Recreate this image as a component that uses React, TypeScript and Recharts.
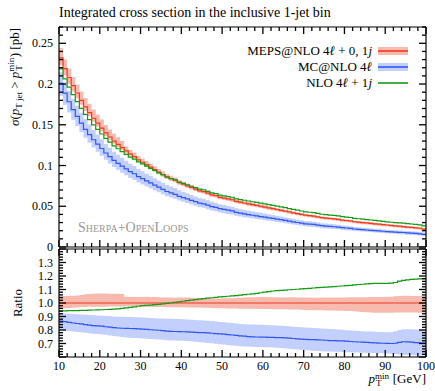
import { ComposedChart, Line, Area, Scatter, XAxis, YAxis, Legend, Customized } from "recharts";

// bin edges in GeV (lower edges, last entry closes the histogram)
const binEdges = [
  10, 11, 12, 13, 14, 15, 16, 17, 18, 19,
  20, 21, 22, 23, 24, 25, 26, 27, 28, 29,
  30, 31, 32, 33, 34, 35, 36, 37, 38, 39,
  40, 41, 42, 43, 44, 45, 46, 47, 48, 49,
  50, 51, 52, 53, 54, 55, 56, 57, 58, 59,
  60, 61, 62, 63, 64, 65, 66, 67, 68, 69,
  70, 71, 72, 73, 74, 75, 76, 77, 78, 79,
  80, 81, 82, 83, 84, 85, 86, 87, 88, 89,
  90, 91, 92, 93, 94, 95, 96, 97, 98, 99,
  100,
];

// MEPS@NLO 4l + 0,1j integrated cross section [pb]
const mepsXsec = [
  0.232, 0.219, 0.208, 0.198, 0.189, 0.180, 0.172, 0.165, 0.158, 0.152,
  0.146, 0.140, 0.135, 0.130, 0.126, 0.122, 0.118, 0.114, 0.111, 0.107,
  0.104, 0.101, 0.098, 0.095, 0.092, 0.089, 0.086, 0.084, 0.082, 0.079,
  0.077, 0.075, 0.073, 0.071, 0.069, 0.068, 0.066, 0.064, 0.063, 0.061,
  0.060, 0.059, 0.058, 0.056, 0.055, 0.054, 0.053, 0.052, 0.051, 0.050,
  0.049, 0.048, 0.047, 0.046, 0.045, 0.044, 0.043, 0.042, 0.041, 0.040,
  0.039, 0.0385, 0.038, 0.037, 0.036, 0.0355, 0.035, 0.0345, 0.034, 0.033,
  0.0325, 0.032, 0.031, 0.0305, 0.030, 0.0295, 0.029, 0.0285, 0.028, 0.0275,
  0.027, 0.0265, 0.026, 0.0255, 0.025, 0.0245, 0.024, 0.0235, 0.023, 0.022,
];

// MEPS@NLO uncertainty band, relative to its central value
const mepsHi = [
  1.051, 1.052, 1.052, 1.053, 1.055, 1.060, 1.064, 1.066, 1.068, 1.070,
  1.071, 1.070, 1.069, 1.068, 1.068, 1.067, 1.046, 1.045, 1.044, 1.044,
  1.045, 1.046, 1.045, 1.044, 1.042, 1.041, 1.040, 1.040, 1.039, 1.040,
  1.041, 1.040, 1.039, 1.038, 1.037, 1.036, 1.035, 1.035, 1.034, 1.034,
  1.035, 1.036, 1.036, 1.037, 1.038, 1.040, 1.042, 1.043, 1.043, 1.044,
  1.044, 1.043, 1.042, 1.042, 1.041, 1.041, 1.042, 1.042, 1.041, 1.040,
  1.040, 1.040, 1.039, 1.039, 1.040, 1.041, 1.041, 1.040, 1.040, 1.041,
  1.041, 1.042, 1.042, 1.042, 1.043, 1.043, 1.044, 1.044, 1.044, 1.045,
  1.046, 1.047, 1.050, 1.052, 1.053, 1.053, 1.052, 1.052, 1.051, 1.051,
];
const mepsLo = [
  0.962, 0.962, 0.963, 0.964, 0.966, 0.970, 0.971, 0.972, 0.972, 0.972,
  0.973, 0.973, 0.974, 0.974, 0.975, 0.975, 0.976, 0.976, 0.975, 0.975,
  0.974, 0.973, 0.972, 0.971, 0.970, 0.970, 0.969, 0.969, 0.968, 0.968,
  0.968, 0.967, 0.967, 0.966, 0.966, 0.965, 0.964, 0.963, 0.962, 0.962,
  0.961, 0.960, 0.960, 0.959, 0.958, 0.958, 0.957, 0.957, 0.956, 0.956,
  0.955, 0.955, 0.954, 0.954, 0.953, 0.953, 0.952, 0.952, 0.951, 0.950,
  0.949, 0.948, 0.947, 0.947, 0.946, 0.945, 0.944, 0.944, 0.943, 0.942,
  0.941, 0.940, 0.938, 0.936, 0.933, 0.931, 0.929, 0.928, 0.928, 0.927,
  0.927, 0.928, 0.929, 0.930, 0.930, 0.930, 0.929, 0.929, 0.928, 0.928,
];

// MC@NLO 4l / MEPS@NLO
const mcRatio = [
  0.866, 0.862, 0.857, 0.852, 0.848, 0.845, 0.840, 0.836, 0.833, 0.830,
  0.828, 0.824, 0.821, 0.818, 0.815, 0.813, 0.812, 0.811, 0.810, 0.808,
  0.806, 0.804, 0.802, 0.800, 0.798, 0.795, 0.792, 0.790, 0.789, 0.788,
  0.787, 0.786, 0.785, 0.783, 0.781, 0.780, 0.778, 0.776, 0.773, 0.771,
  0.769, 0.766, 0.763, 0.760, 0.757, 0.754, 0.751, 0.749, 0.748, 0.747,
  0.747, 0.746, 0.745, 0.744, 0.744, 0.742, 0.740, 0.737, 0.734, 0.732,
  0.730, 0.729, 0.728, 0.727, 0.726, 0.724, 0.722, 0.721, 0.720, 0.719,
  0.717, 0.715, 0.713, 0.711, 0.710, 0.708, 0.706, 0.704, 0.703, 0.702,
  0.701, 0.700, 0.702, 0.708, 0.713, 0.712, 0.710, 0.707, 0.705, 0.703,
];
const mcHi = [
  0.925, 0.923, 0.921, 0.919, 0.917, 0.915, 0.913, 0.911, 0.909, 0.907,
  0.905, 0.903, 0.902, 0.900, 0.899, 0.898, 0.897, 0.896, 0.895, 0.894,
  0.893, 0.891, 0.889, 0.887, 0.886, 0.885, 0.884, 0.883, 0.882, 0.881,
  0.880, 0.878, 0.876, 0.874, 0.872, 0.870, 0.868, 0.866, 0.863, 0.860,
  0.857, 0.854, 0.851, 0.848, 0.845, 0.843, 0.841, 0.840, 0.839, 0.838,
  0.837, 0.836, 0.835, 0.833, 0.831, 0.829, 0.827, 0.825, 0.823, 0.821,
  0.819, 0.817, 0.815, 0.813, 0.811, 0.809, 0.807, 0.805, 0.803, 0.801,
  0.799, 0.797, 0.795, 0.793, 0.791, 0.789, 0.788, 0.787, 0.786, 0.785,
  0.784, 0.784, 0.790, 0.800, 0.806, 0.806, 0.805, 0.804, 0.803, 0.802,
];
const mcLo = [
  0.800, 0.797, 0.793, 0.789, 0.786, 0.783, 0.780, 0.776, 0.773, 0.770,
  0.767, 0.764, 0.760, 0.756, 0.752, 0.748, 0.745, 0.743, 0.741, 0.739,
  0.737, 0.735, 0.733, 0.731, 0.729, 0.727, 0.725, 0.723, 0.722, 0.721,
  0.720, 0.718, 0.716, 0.713, 0.710, 0.707, 0.704, 0.701, 0.698, 0.695,
  0.692, 0.689, 0.686, 0.683, 0.680, 0.678, 0.677, 0.676, 0.675, 0.674,
  0.673, 0.672, 0.671, 0.669, 0.667, 0.664, 0.661, 0.658, 0.655, 0.653,
  0.651, 0.649, 0.647, 0.645, 0.643, 0.641, 0.640, 0.639, 0.638, 0.637,
  0.636, 0.635, 0.634, 0.633, 0.632, 0.631, 0.630, 0.629, 0.628, 0.627,
  0.626, 0.625, 0.622, 0.618, 0.615, 0.614, 0.613, 0.612, 0.612, 0.611,
];

// NLO 4l + 1j / MEPS@NLO
const nloRatio = [
  0.942, 0.942, 0.943, 0.944, 0.944, 0.945, 0.946, 0.947, 0.948, 0.949,
  0.950, 0.952, 0.953, 0.955, 0.957, 0.960, 0.964, 0.968, 0.972, 0.976,
  0.980, 0.983, 0.985, 0.988, 0.990, 0.994, 0.997, 1.000, 1.004, 1.008,
  1.013, 1.017, 1.021, 1.025, 1.029, 1.033, 1.036, 1.039, 1.042, 1.045,
  1.047, 1.050, 1.053, 1.055, 1.058, 1.062, 1.065, 1.068, 1.072, 1.076,
  1.080, 1.084, 1.089, 1.092, 1.094, 1.096, 1.098, 1.100, 1.102, 1.104,
  1.106, 1.108, 1.111, 1.114, 1.116, 1.118, 1.120, 1.122, 1.124, 1.126,
  1.128, 1.131, 1.134, 1.137, 1.139, 1.141, 1.143, 1.145, 1.146, 1.146,
  1.146, 1.147, 1.152, 1.162, 1.168, 1.172, 1.175, 1.177, 1.178, 1.180,
];

const xTicks = [10, 12, 14, 16, 18, 20, 22, 24, 26, 28, 30, 32, 34, 36, 38, 40, 42, 44, 46, 48, 50,
  52, 54, 56, 58, 60, 62, 64, 66, 68, 70, 72, 74, 76, 78, 80, 82, 84, 86, 88, 90, 92, 94, 96, 98, 100];
const mainMajor = [0, 0.05, 0.1, 0.15, 0.2, 0.25];
const mainMajorLabels = ["0", "0.05", "0.1", "0.15", "0.2", "0.25"];
const ratioMajor = [0.6, 0.7, 0.8, 0.9, 1.0, 1.1, 1.2, 1.3, 1.4];
const ratioMajorLabels = ["", "0.7", "0.8", "0.9", "1.0", "1.1", "1.2", "1.3", ""];

const legendNames = ["MEPS@NLO", "MC@NLO", "NLO"];

const RED = "#ee3a1e";
const RED_BAND = "#f8b9ae";
const BLUE = "#2f58f2";
const BLUE_BAND = "#c3cffc";
const GREEN = "#159a15";
const FONT = "'Liberation Serif', 'DejaVu Serif', serif";

// minor tick positions (every 0.01 / 0.02)
const mainYTicks = Array.from({ length: 28 }, (_, i) => i / 100);
const ratioYTicks = Array.from({ length: 41 }, (_, i) => Math.round(60 + i * 2) / 100);

const mainRows = binEdges.map((x, i) => {
  const k = Math.min(i, mepsXsec.length - 1);
  const m = mepsXsec[k];
  return {
    x,
    meps: m,
    mc: m * mcRatio[k],
    nlo: m * nloRatio[k],
    mepsBand: [m * mepsLo[k], m * mepsHi[k]],
    mcBand: [m * mcLo[k], m * mcHi[k]],
  };
});

const ratioRows = binEdges.map((x, i) => {
  const k = Math.min(i, mepsXsec.length - 1);
  return {
    x,
    meps: 1,
    mc: mcRatio[k],
    nlo: nloRatio[k],
    mepsBand: [mepsLo[k], mepsHi[k]],
    mcBand: [mcLo[k], mcHi[k]],
  };
});

const MINOR_LEN = 4;
const MAJOR_LEN = 7;
const TICK_W = 1.3;
const axisLine = { stroke: "#000", strokeWidth: 1.2 };

const isMajor = (v: number, majors: number[]) => majors.some((m) => Math.abs(m - v) < 1e-6);

// the frame ticks are placed through the chart's own scales as scatter points,
// each one drawn as a short inward mark
function tickPoints(domain: number[], yTicks: number[], majors: number[]) {
  const bottom = xTicks.map((t) => ({ x: t, y: domain[0], side: "bottom", major: t % 10 === 0 }));
  const top = xTicks.map((t) => ({ x: t, y: domain[1], side: "top", major: t % 10 === 0 }));
  const left = yTicks.map((t) => ({ x: 10, y: t, side: "left", major: isMajor(t, majors) }));
  const right = yTicks.map((t) => ({ x: 100, y: t, side: "right", major: isMajor(t, majors) }));
  return [...bottom, ...top, ...left, ...right];
}

function TickMark(props: any) {
  const { cx, cy, payload } = props;
  if (cx == null || cy == null || !payload) return <g />;
  const len = payload.major ? MAJOR_LEN : MINOR_LEN;
  if (payload.side === "bottom") return <rect x={cx - TICK_W / 2} y={cy - len} width={TICK_W} height={len} fill="#000" />;
  if (payload.side === "top") return <rect x={cx - TICK_W / 2} y={cy} width={TICK_W} height={len} fill="#000" />;
  if (payload.side === "left") return <rect x={cx} y={cy - TICK_W / 2} width={len} height={TICK_W} fill="#000" />;
  return <rect x={cx - len} y={cy - TICK_W / 2} width={len} height={TICK_W} fill="#000" />;
}

function XTick(props: any) {
  const { payload, labels } = props;
  const x = Number(props.x);
  const y = Number(props.y);
  const v = payload.value;
  if (!labels || v % 10 !== 0) return <g />;
  return (
    <text x={x} y={y + 13} textAnchor="middle" fontSize={12} fontFamily={FONT} fill="#000">
      {v}
    </text>
  );
}

function YTick(props: any) {
  const { payload, majors, labels } = props;
  const x = Number(props.x);
  const y = Number(props.y);
  const idx = majors.findIndex((m: number) => Math.abs(m - payload.value) < 1e-6);
  if (idx < 0 || !labels[idx]) return <g />;
  return (
    <text x={x - 6} y={y + 4} textAnchor="end" fontSize={12} fontFamily={FONT} fill="#000">
      {labels[idx]}
    </text>
  );
}

function LegendBox() {
  const rows = [
    { name: legendNames[0], suffix: " + 0, 1", j: true, color: RED, band: RED_BAND },
    { name: legendNames[1], suffix: "", j: false, color: BLUE, band: BLUE_BAND },
    { name: legendNames[2], suffix: " + 1", j: true, color: GREEN, band: null },
  ];
  return (
    <div style={{ fontFamily: FONT, fontSize: 13 }}>
      {rows.map((r) => (
        <div key={r.name} style={{ display: "flex", justifyContent: "flex-end", alignItems: "center", height: 16 }}>
          <span style={{ whiteSpace: "nowrap" }}>
            {r.name} 4<i>ℓ</i>
            {r.suffix}
            {r.j && <i>j</i>}
          </span>
          <svg width={30} height={8} style={{ marginLeft: 6, marginRight: 18 }}>
            {r.band && <rect x={0} y={0} width={30} height={8} fill={r.band} />}
            <line x1={0} y1={4} x2={30} y2={4} stroke={r.color} strokeWidth={1.6} />
          </svg>
        </div>
      ))}
    </div>
  );
}

function Frame({ rows, domain, yTicks, majors, labels, height, margin, xLabels, children }: any) {
  return (
    <ComposedChart width={435} height={height} data={rows} margin={margin}>
      <XAxis xAxisId="b" dataKey="x" type="number" domain={[10, 100]} ticks={xTicks} interval={0} height={1}
        tickSize={0} tickMargin={0} tickLine={false} axisLine={axisLine}
        tick={(p: any) => <XTick {...p} labels={xLabels} />} />
      <XAxis xAxisId="t" orientation="top" dataKey="x" type="number" domain={[10, 100]} ticks={xTicks} interval={0}
        height={1} tickSize={0} tickMargin={0} tickLine={false} axisLine={axisLine} tick={false} />
      <YAxis yAxisId="l" type="number" domain={domain} ticks={yTicks} interval={0} width={59}
        tickSize={0} tickMargin={0} tickLine={false} axisLine={axisLine}
        tick={(p: any) => <YTick {...p} majors={majors} labels={labels} />} />
      <YAxis yAxisId="r" orientation="right" type="number" domain={domain} ticks={yTicks} interval={0} width={1}
        tickSize={0} tickMargin={0} tickLine={false} axisLine={axisLine} tick={false} />
      <Area xAxisId="b" yAxisId="l" dataKey="mepsBand" type="stepAfter" fill={RED_BAND} fillOpacity={1} stroke="none" isAnimationActive={false} />
      <Area xAxisId="b" yAxisId="l" dataKey="mcBand" type="stepAfter" fill={BLUE_BAND} fillOpacity={1} stroke="none" isAnimationActive={false} />
      <Line xAxisId="b" yAxisId="l" dataKey="mc" type="stepAfter" stroke={BLUE} strokeWidth={1.2} dot={false} isAnimationActive={false} />
      <Line xAxisId="b" yAxisId="l" dataKey="meps" type="stepAfter" stroke={RED} strokeWidth={1.2} dot={false} isAnimationActive={false} />
      <Line xAxisId="b" yAxisId="l" dataKey="nlo" type="stepAfter" stroke={GREEN} strokeWidth={1.2} dot={false} isAnimationActive={false} />
      <Scatter xAxisId="b" yAxisId="l" data={tickPoints(domain, yTicks, majors)} dataKey="y" fill="#000"
        shape={(p: any) => <TickMark {...p} />} isAnimationActive={false} legendType="none" />
      {children}
    </ComposedChart>
  );
}

export default function App() {
  return (
    <div style={{ position: "absolute", left: 0, top: 0, width: 435, height: 391, background: "#fff", fontFamily: FONT }}>
      <div style={{ position: "absolute", left: 0, top: 0 }}>
        <Frame rows={mainRows} domain={[0, 0.27]} yTicks={mainYTicks} majors={mainMajor} labels={mainMajorLabels}
          height={255} margin={{ top: 26, right: 8, bottom: 7, left: 0 }} xLabels={false}>
          <Legend layout="vertical" verticalAlign="middle" align="center"
            wrapperStyle={{ top: 43, left: 150, width: 276, height: 50 }} content={() => <LegendBox />} />
          <Customized component={() => (
            <g fontFamily={FONT}>
              <text x={59} y={17} fontSize={14} fill="#000">Integrated cross section in the inclusive 1-jet bin</text>
              <text x={78} y={232} fontSize={14} fill="#999" style={{ fontVariant: "small-caps" }}>Sherpa+OpenLoops</text>
              <text x={19} y={28} fontSize={13} fill="#000" textAnchor="end" transform="rotate(-90 19 28)">
                <tspan fontStyle="italic">σ</tspan>(<tspan fontStyle="italic">p</tspan>
                <tspan fontSize={9} dy={3}>T jet</tspan>
                <tspan dy={-3}> &gt; </tspan>
                <tspan fontStyle="italic">p</tspan>
                <tspan fontSize={9} dy={-5}>min</tspan>
                <tspan fontSize={9} dx={-13} dy={8}>T</tspan>
                <tspan dy={-3} dx={8}>) [pb]</tspan>
              </text>
            </g>
          )} />
        </Frame>
      </div>
      <div style={{ position: "absolute", left: 0, top: 240 }}>
        <Frame rows={ratioRows} domain={[0.6, 1.4]} yTicks={ratioYTicks} majors={ratioMajor} labels={ratioMajorLabels}
          height={151} margin={{ top: 8, right: 8, bottom: 33, left: 0 }} xLabels={true}>
          <Customized component={() => (
            <g fontFamily={FONT}>
              <text x={22} y={63} fontSize={13} fill="#000" textAnchor="middle" transform="rotate(-90 22 63)">Ratio</text>
              <text x={426} y={143} fontSize={13} fill="#000" textAnchor="end">
                <tspan fontStyle="italic">p</tspan>
                <tspan fontSize={9} dy={-4}>min</tspan>
                <tspan fontSize={9} dx={-13} dy={7}>T</tspan>
                <tspan dy={-3} dx={8}> [GeV]</tspan>
              </text>
            </g>
          )} />
        </Frame>
      </div>
    </div>
  );
}
